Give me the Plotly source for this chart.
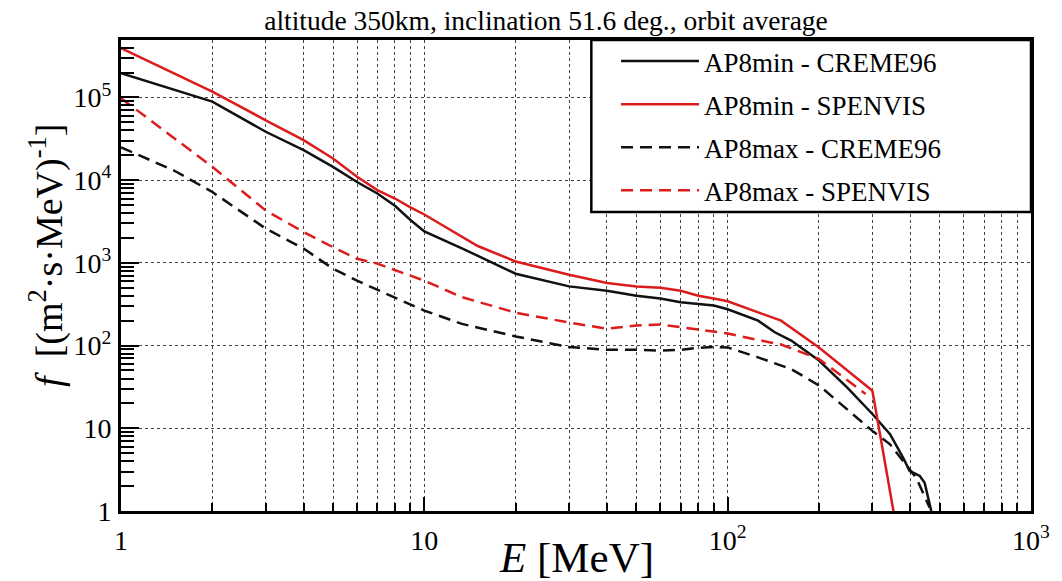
import plotly.graph_objects as go

# ---- data ----
E_min_creme = [1, 2, 3, 4, 5, 6, 7, 8, 9, 10, 13.3, 20, 30, 40, 50, 60, 70, 80, 90, 100,
               126, 143, 162, 200, 248, 300, 343, 379, 398, 430, 446, 469]
f_min_creme = [1.96e5, 8.9e4, 3.85e4, 2.31e4, 1.45e4, 9.5e3, 6.9e3, 4.9e3, 3.3e3, 2.4e3,
               1.5e3, 7.4e2, 5.2e2, 4.6e2, 4.0e2, 3.7e2, 3.35e2, 3.2e2, 3.05e2, 2.75e2,
               2.0e2, 1.45e2, 1.15e2, 66, 31, 14.9, 8.5, 4.4, 3.05, 2.65, 2.2, 1.0]

E_min_spenvis = [1, 2, 3, 4, 5, 6, 7, 8, 9, 10, 15, 20, 30, 40, 50, 60, 70, 80, 90, 100,
                 150, 200, 300, 352]
f_min_spenvis = [3.95e5, 1.18e5, 5.3e4, 3.05e4, 1.83e4, 1.1e4, 7.6e3, 6.0e3, 4.7e3, 3.85e3,
                 1.6e3, 1.04e3, 7.2e2, 5.7e2, 5.2e2, 5.0e2, 4.6e2, 4.0e2, 3.7e2, 3.44e2,
                 2.0e2, 95, 28.5, 1.0]

E_max_creme = [1, 1.5, 2, 3, 4, 5, 6, 7, 8, 10, 13.3, 20, 30, 40, 50, 60, 70, 80, 90, 100,
               126, 162, 200, 300, 343, 379, 419, 463]
f_max_creme = [2.5e4, 1.3e4, 7.2e3, 2.6e3, 1.49e3, 8.5e2, 6.1e2, 4.7e2, 3.8e2, 2.65e2, 1.83e2,
               1.29e2, 96, 89, 89, 87, 89, 94, 96, 95, 72, 52, 33, 9.3, 6.4, 4.0, 2.5, 1.1]

E_max_spenvis = [1, 2, 3, 4, 5, 6, 7, 8, 9, 10, 13.3, 20, 30, 40, 50, 60, 70, 80, 90, 100,
                 126, 150, 200, 285]
f_max_spenvis = [9.8e4, 1.45e4, 4.3e3, 2.36e3, 1.55e3, 1.12e3, 9.8e2, 8.1e2, 7.0e2, 6.1e2, 3.85e2,
                 2.5e2, 1.9e2, 1.6e2, 1.75e2, 1.8e2, 1.67e2, 1.55e2, 1.49e2, 1.4e2,
                 1.17e2, 1.03e2, 69, 26]

series_names = ["AP8min - CREME96", "AP8min - SPENVIS", "AP8max - CREME96", "AP8max - SPENVIS"]

x_tickvals = [1, 10, 100, 1000]
x_ticktext = ["1", "10", "10<sup>2</sup>", "10<sup>3</sup>"]
y_tickvals = [1, 10, 100, 1000, 10000, 100000]
y_ticktext = ["1", "10", "10<sup>2</sup>", "10<sup>3</sup>", "10<sup>4</sup>", "10<sup>5</sup>"]

title_text = "altitude 350km, inclination 51.6 deg., orbit average"

# ---- styling ----
FONT = "Liberation Serif, Times New Roman, DejaVu Serif, serif"
RED = "#dc1c1c"
BLACK = "#111111"

x_minor = [m * 10 ** d for d in range(0, 3) for m in range(2, 10)]
y_minor = [m * 10 ** d for d in range(0, 6) for m in range(2, 10)]

fig = go.Figure()
specs = [
    (E_min_creme, f_min_creme, BLACK, "solid"),
    (E_min_spenvis, f_min_spenvis, RED, "solid"),
    (E_max_creme, f_max_creme, BLACK, "12px,7px"),
    (E_max_spenvis, f_max_spenvis, RED, "12px,7px"),
]
for i, (xs, ys, col, dash) in enumerate(specs):
    fig.add_trace(go.Scatter(
        x=xs, y=ys, mode="lines", name=series_names[i],
        legendgroup=f"g{i}",
        line=dict(color=col, width=2.5, dash=dash),
    ))

L, R, T, B = 121, 20, 40, 70
W, H = 1062, 581
pw, ph = W - L - R, H - T - B

def px_x(p):
    return (p - L) / pw

def px_y(p):
    return (H - B - p) / ph

fig.update_layout(
    width=W, height=H,
    margin=dict(l=L, r=R, t=T, b=B),
    paper_bgcolor="white", plot_bgcolor="white",
    font=dict(family=FONT, color="black"),
    title=dict(text=title_text, x=546 / W, xref="container", y=1 - 20 / H, yref="container",
               xanchor="center", yanchor="middle", font=dict(size=27.5, family=FONT)),
    showlegend=True,
    legend=dict(x=px_x(622), y=px_y(37), xanchor="left", yanchor="top",
                bgcolor="rgba(0,0,0,0)", borderwidth=0,
                font=dict(size=27, family=FONT), itemwidth=78,
                tracegroupgap=5, traceorder="grouped"),
    shapes=[dict(type="rect", xref="paper", yref="paper",
                 x0=px_x(597), x1=1.0, y0=px_y(212), y1=1.0,
                 fillcolor="white", line=dict(color="black", width=2.5), layer="above")],
    annotations=[
        dict(text="<i>E</i> [MeV]", xref="paper", yref="paper", x=0.5, y=px_y(557),
             xanchor="center", yanchor="middle", showarrow=False,
             font=dict(size=43, family=FONT)),
        dict(text="<i>f</i>  [(m<sup>2</sup>·s·MeV)<sup>-1</sup>]", xref="paper", yref="paper",
             x=px_x(45), y=px_y(255), xanchor="center", yanchor="middle", textangle=-90,
             showarrow=False, font=dict(size=38, family=FONT)),
    ],
)

fig.update_xaxes(
    type="log", range=[0, 3],
    tickmode="array", tickvals=x_tickvals, ticktext=x_ticktext,
    ticks="inside", ticklen=14, tickwidth=2, tickcolor="black",
    tickfont=dict(size=28, family=FONT), ticklabelstandoff=2,
    showline=True, linecolor="black", linewidth=3, mirror=True,
    showgrid=True, gridcolor="#444", gridwidth=1, griddash="dot",
    minor=dict(tickmode="array", tickvals=x_minor, ticks="inside", ticklen=8,
               tickwidth=1.5, tickcolor="black", showgrid=True, gridcolor="#444",
               gridwidth=1, griddash="dot"),
    zeroline=False,
)
fig.update_yaxes(
    type="log", range=[0, 5.695],
    tickmode="array", tickvals=y_tickvals, ticktext=y_ticktext,
    ticks="inside", ticklen=18, tickwidth=2, tickcolor="black",
    tickfont=dict(size=28, family=FONT), ticklabelstandoff=1,
    showline=True, linecolor="black", linewidth=3, mirror=True,
    showgrid=True, gridcolor="#444", gridwidth=1, griddash="dot",
    minor=dict(tickmode="array", tickvals=y_minor, ticks="inside", ticklen=13,
               tickwidth=1.5, tickcolor="black", showgrid=False),
    zeroline=False,
)

fig.write_html("out.html")
